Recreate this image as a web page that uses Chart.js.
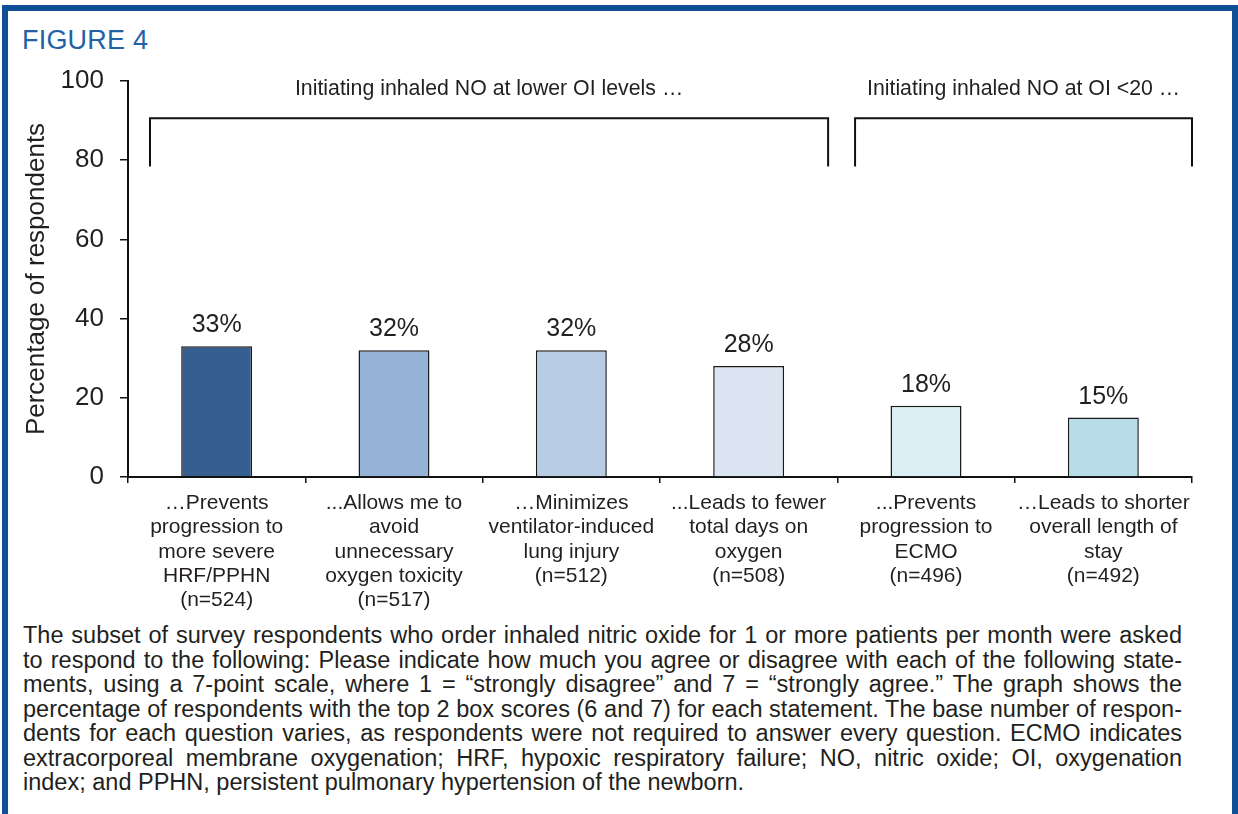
<!DOCTYPE html>
<html>
<head>
<meta charset="utf-8">
<title>Figure 4</title>
<script src="https://cdn.jsdelivr.net/npm/chart.js@4/dist/chart.umd.min.js"></script>
<style>
    html, body { margin: 0; padding: 0; background: #fff; }
    body { width: 1238px; height: 814px; position: relative; overflow: hidden;
           font-family: 'Liberation Sans', Arial, Helvetica, sans-serif; color: #231f20; }
    #frame { position: absolute; left: 2px; top: 5px; width: 1224px; height: 900px;
             border: 6px solid #0f4f96; border-bottom: none; }
    #figlabel { position: absolute; left: 22px; top: 25px; font-size: 27px; color: #2361a6;
                letter-spacing: 0.2px; }
    #chartbox { position: absolute; left: 0; top: 0; }
    #caption { position: absolute; left: 23px; top: 623px; width: 1159px;
               font-size: 23.5px; line-height: 24.5px; }
    #caption .ln { text-align: justify; text-align-last: justify; white-space: nowrap; }
    #caption .ln.last { text-align-last: left; }
</style>
</head>
<body>
<div id="frame"></div>
<div id="figlabel">FIGURE 4</div>
<canvas id="chartbox" width="1238" height="620"></canvas>
<div id="caption">
    <div class="ln">The subset of survey respondents who order inhaled nitric oxide for 1 or more patients per month were asked</div>
    <div class="ln">to respond to the following: Please indicate how much you agree or disagree with each of the following state-</div>
    <div class="ln">ments, using a 7-point scale, where 1 = “strongly disagree” and 7 = “strongly agree.” The graph shows the</div>
    <div class="ln">percentage of respondents with the top 2 box scores (6 and 7) for each statement. The base number of respon-</div>
    <div class="ln">dents for each question varies, as respondents were not required to answer every question. ECMO indicates</div>
    <div class="ln">extracorporeal membrane oxygenation; HRF, hypoxic respiratory failure; NO, nitric oxide; OI, oxygenation</div>
    <div class="ln last">index; and PPHN, persistent pulmonary hypertension of the newborn.</div>
</div>
<script>
// statements, one array of wrapped lines per bar
var statements = [
    ["…Prevents", "progression to", "more severe", "HRF/PPHN"],
    ["...Allows me to", "avoid", "unnecessary", "oxygen toxicity"],
    ["…Minimizes", "ventilator-induced", "lung injury"],
    ["...Leads to fewer", "total days on", "oxygen"],
    ["...Prevents", "progression to", "ECMO"],
    ["…Leads to shorter", "overall length of", "stay"]
];
var sampleSizes = [524, 517, 512, 508, 496, 492];
var topTwoBox = [33, 32, 32, 28, 18, 15];
var barColors = ["#365f91", "#95b3d7", "#b8cce4", "#dbe5f1", "#daeef3", "#b6dde8"];
var yTicks = [0, 20, 40, 60, 80, 100];

// bracket groups (x in category index units, y in percent)
var groupNames = ["Initiating inhaled NO at lower OI levels …", "Initiating inhaled NO at OI <20 …"];
var groupStart = [-0.376, 3.6];
var groupEnd = [3.448, 5.5];
var bracketTop = 90.6;
var bracketBottom = 78.4;
var groupLabelY = 98;

var labels = statements.map(function (lines, i) {
    return lines.concat(["(n=" + sampleSizes[i] + ")"]);
});

Chart.defaults.font.family = "'Liberation Sans', Arial, Helvetica, sans-serif";
Chart.defaults.color = "#231f20";

var valueLabels = {
    id: "valueLabels",
    afterDatasetsDraw: function (chart) {
        var ctx = chart.ctx;
        var meta = chart.getDatasetMeta(0);
        ctx.save();
        ctx.font = "25px 'Liberation Sans', Arial, sans-serif";
        ctx.fillStyle = "#231f20";
        ctx.textAlign = "center";
        ctx.textBaseline = "alphabetic";
        meta.data.forEach(function (bar, i) {
            ctx.fillText(topTwoBox[i] + "%", bar.x, bar.y - 14);
        });
        ctx.restore();
    }
};

var brackets = {
    id: "brackets",
    afterDraw: function (chart) {
        var ctx = chart.ctx;
        var xs = chart.scales.x, ys = chart.scales.y;
        var yt = ys.getPixelForValue(bracketTop);
        var yb = ys.getPixelForValue(bracketBottom);
        ctx.save();
        ctx.strokeStyle = "#111";
        ctx.lineWidth = 2;
        ctx.font = "21.3px 'Liberation Sans', Arial, sans-serif";
        ctx.fillStyle = "#231f20";
        ctx.textAlign = "center";
        ctx.textBaseline = "middle";
        groupNames.forEach(function (name, i) {
            var x0 = xs.getPixelForValue(groupStart[i]);
            var x1 = xs.getPixelForValue(groupEnd[i]);
            ctx.beginPath();
            ctx.moveTo(x0, yb);
            ctx.lineTo(x0, yt);
            ctx.lineTo(x1, yt);
            ctx.lineTo(x1, yb);
            ctx.stroke();
            ctx.fillText(name, (x0 + x1) / 2, ys.getPixelForValue(groupLabelY));
        });
        ctx.restore();
    }
};

var chart = new Chart(document.getElementById("chartbox").getContext("2d"), {
    type: "bar",
    data: {
        labels: labels,
        datasets: [{
            data: topTwoBox,
            backgroundColor: barColors,
            borderColor: "#1a1a1a",
            borderWidth: 1.5,
            barPercentage: 0.4,
            categoryPercentage: 1.0
        }]
    },
    options: {
        responsive: false,
        animation: false,
        devicePixelRatio: 1,
        layout: { padding: { left: 0, right: 46, top: 81, bottom: 0 } },
        plugins: {
            legend: { display: false },
            tooltip: { enabled: false }
        },
        scales: {
            x: {
                grid: { offset: true, drawOnChartArea: false, tickLength: 6, color: "#111", lineWidth: 1.5 },
                border: { color: "#111", width: 2 },
                ticks: {
                    autoSkip: false, maxRotation: 0, minRotation: 0, padding: 8,
                    font: { size: 21, lineHeight: 1.16 }, color: "#231f20"
                },
                afterFit: function (s) { s.height = 143; }
            },
            y: {
                min: 0, max: 100,
                afterBuildTicks: function (s) {
                    s.ticks = yTicks.map(function (v) { return { value: v }; });
                },
                grid: { drawOnChartArea: false, tickLength: 8, color: "#111", lineWidth: 1.5 },
                border: { color: "#111", width: 2 },
                ticks: { padding: 16, font: { size: 26 }, color: "#231f20" },
                title: {
                    display: true, text: "Percentage of respondents",
                    font: { size: 26 }, color: "#231f20", padding: { top: 21, bottom: 0 }
                },
                afterFit: function (s) { s.width = 128; }
            }
        }
    },
    plugins: [valueLabels, brackets]
});
</script>
</body>
</html>
